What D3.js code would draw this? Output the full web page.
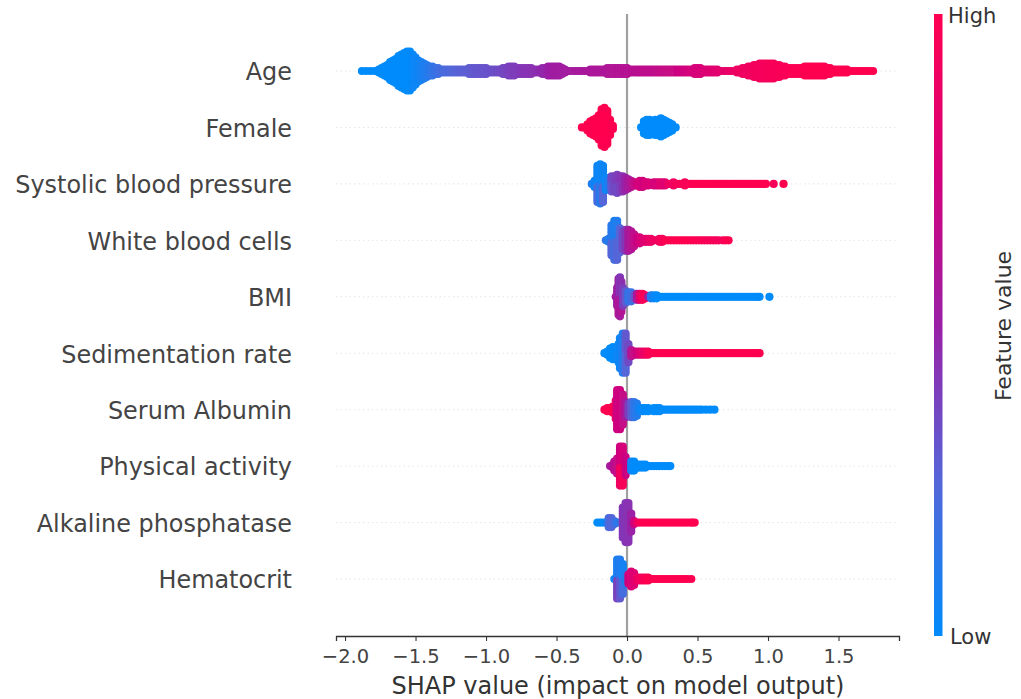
<!DOCTYPE html>
<html>
<head>
<meta charset="utf-8">
<script src="https://d3js.org/d3.v7.min.js"></script>
<style>
  html, body { margin: 0; background: #fff; }
  text { font-family: "DejaVu Sans", sans-serif; }
</style>
</head>
<body>
<div id="chart"></div>
<script>
const features = ['Age', 'Female', 'Systolic blood pressure', 'White blood cells', 'BMI',
  'Sedimentation rate', 'Serum Albumin', 'Physical activity', 'Alkaline phosphatase', 'Hematocrit'];
const xTicks = [-2.0, -1.5, -1.0, -0.5, 0.0, 0.5, 1.0, 1.5];

// each stop: [shap value, dots stacked, feature value upper half, feature value lower half]
const age = [[-1.88,1,0],[-1.85,1,0],[-1.82,1,0],[-1.79,1,0],[-1.76,2,0],[-1.74,3,0],[-1.72,4,0],[-1.70,5,0],[-1.68,7,0],[-1.66,8,0],[-1.64,9,0],[-1.62,11,0],[-1.60,12,0],[-1.58,13,0],[-1.56,14,0],[-1.54,14,0],[-1.52,12,0.02],
  [-1.50,10,0.03],[-1.48,8,0.05],[-1.46,7,0.06],[-1.44,6,0.08],[-1.42,5,0.1],[-1.40,4,0.12],[-1.38,4,0.14],[-1.36,3,0.16],[-1.34,3,0.18],[-1.32,2,0.2],[-1.30,2,0.21],[-1.28,2,0.22],[-1.26,2,0.23],[-1.24,2,0.24],[-1.22,2,0.25],[-1.20,2,0.26],[-1.18,2,0.26],[-1.16,2,0.27],[-1.14,2,0.27],[-1.12,3,0.28],[-1.10,3,0.29],
  [-1.08,3,0.3],[-1.06,3,0.3],[-1.04,3,0.31],[-1.02,3,0.31],[-1.00,3,0.32],[-0.98,2,0.32],[-0.96,2,0.33],[-0.94,2,0.33],[-0.92,2,0.34],[-0.90,2,0.35],[-0.88,3,0.36],[-0.86,3,0.37],[-0.84,4,0.38],[-0.82,4,0.39],[-0.80,4,0.4],[-0.78,3,0.4],[-0.76,3,0.41],[-0.74,3,0.42],[-0.72,3,0.43],[-0.70,3,0.43],
  [-0.68,3,0.44],[-0.66,2,0.44],[-0.64,2,0.45],[-0.62,2,0.46],[-0.60,3,0.47],[-0.58,3,0.48],[-0.56,4,0.5],[-0.54,4,0.51],[-0.52,4,0.52],[-0.50,4,0.52],[-0.48,4,0.53],[-0.46,3,0.53],[-0.44,2,0.53],[-0.42,1,0.54],[-0.40,1,0.54],[-0.38,1,0.54],[-0.36,1,0.55],[-0.34,1,0.55],[-0.32,1,0.55],[-0.30,1,0.56],
  [-0.28,1,0.56],[-0.26,2,0.56],[-0.24,2,0.57],[-0.22,2,0.57],[-0.20,2,0.57],[-0.18,2,0.58],[-0.16,2,0.58],[-0.14,3,0.58],[-0.12,3,0.59],[-0.10,3,0.59],[-0.08,3,0.6],[-0.06,3,0.6],[-0.04,3,0.6],[-0.02,3,0.61],[0.00,3,0.61],[0.02,2,0.61],[0.04,2,0.62],[0.06,2,0.62],[0.08,2,0.63],[0.10,2,0.63],
  [0.12,2,0.64],[0.14,2,0.64],[0.16,2,0.65],[0.18,2,0.65],[0.20,2,0.66],[0.22,2,0.66],[0.24,2,0.67],[0.26,2,0.67],[0.28,2,0.68],[0.30,2,0.68],[0.32,2,0.69],[0.34,2,0.69],[0.36,2,0.7],[0.38,2,0.71],[0.40,2,0.72],[0.42,2,0.73],[0.44,2,0.74],[0.46,2,0.74],[0.48,3,0.75],[0.50,3,0.75],
  [0.52,3,0.76],[0.54,2,0.77],[0.56,2,0.78],[0.58,2,0.79],[0.60,2,0.8],[0.62,2,0.81],[0.64,2,0.82],[0.66,1,0.83],[0.68,1,0.84],[0.70,1,0.85],[0.72,1,0.86],[0.74,1,0.87],[0.76,1,0.88],[0.78,2,0.89],[0.80,2,0.9],[0.82,3,0.9],[0.84,3,0.91],[0.86,4,0.91],[0.88,4,0.92],[0.90,5,0.92],
  [0.92,5,0.93],[0.94,6,0.93],[0.96,6,0.94],[0.98,6,0.94],[1.00,6,0.95],[1.02,6,0.95],[1.04,6,0.96],[1.06,5,0.96],[1.08,5,0.96],[1.10,4,0.97],[1.12,4,0.97],[1.14,3,0.97],[1.16,3,0.98],[1.18,3,0.98],[1.20,3,0.98],[1.22,3,0.99],[1.24,3,0.99],[1.26,4,1],[1.28,4,1],
  [1.30,4,1],[1.32,4,1],[1.34,4,1],[1.36,4,1],[1.38,4,1],[1.40,4,1],[1.42,3,1],[1.44,3,1],[1.46,2,1],[1.48,2,1],[1.50,2,1],[1.52,2,1],[1.54,2,1],[1.56,2,1],[1.58,1,1],[1.60,1,1],[1.62,1,1],[1.64,1,1],[1.66,1,1],[1.68,1,1],[1.70,1,1],[1.72,1,1],[1.745,1,1]];
const female = [[-0.32,1,1],[-0.30,1,1],[-0.28,3,1],[-0.26,5,1],[-0.24,6,1],[-0.22,7,1],[-0.20,9,1],[-0.18,13,1],[-0.16,14,1],[-0.14,12,1],[-0.12,6,1],[-0.10,2,1],
  [0.10,1,0],[0.12,5,0],[0.14,6,0],[0.16,6,0],[0.18,5,0],[0.20,6,0],[0.22,6,0],[0.24,7,0],[0.26,6,0],[0.28,5,0],[0.30,4,0],[0.32,3,0],[0.345,1,0]];
const systolic = [[-0.25,1,0.1],[-0.23,3,0.05],[-0.21,13,0.04,0.2],[-0.19,14,0.03,0.12],[-0.17,13,0.05,0.25],[-0.15,5,0.03],[-0.13,3,0.1],[-0.11,6,0.35,0.3],[-0.09,6,0.38,0.36],[-0.07,7,0.4,0.35],
  [-0.05,6,0.42,0.38],[-0.03,6,0.44],[-0.01,5,0.5],[0.01,4,0.55],[0.03,3,0.6],[0.05,2,0.68],[0.07,2,0.72],[0.09,3,0.76],[0.11,3,0.72],[0.13,2,0.78],[0.15,2,0.76],[0.17,1,0.8],[0.19,2,0.76],
  [0.21,2,0.74],[0.23,2,0.8],[0.25,2,0.82],[0.27,2,0.8],[0.29,1,0.88],[0.31,1,0.9],[0.33,2,0.92],[0.35,1,0.94],[0.37,1,0.96],[0.39,1,0.96],[0.41,2,0.95],[0.43,1,0.97],[0.45,1,0.98],[0.47,1,1],[0.49,1,1],[0.51,1,1],[0.53,1,1],[0.55,1,1],[0.57,1,1],[0.59,1,1],[0.61,1,1],[0.63,1,1],[0.65,1,1],[0.67,1,1],[0.69,1,1],[0.71,1,1],
  [0.73,1,1],[0.75,1,1],[0.77,1,1],[0.79,1,1],[0.81,1,1],[0.83,1,1],[0.85,1,1],[0.87,1,1],[0.89,1,1],[0.91,1,1],[0.93,1,1],[0.95,1,1],[0.97,1,1],[0.985,1,1],[1.04,1,0.95],[1.11,1,1]];
const bloodCells = [[-0.15,1,0.15],[-0.13,2,0.1],[-0.11,11,0.12,0.25],[-0.09,14,0.08,0.2],[-0.07,14,0.1,0.25],[-0.05,9,0.25],[-0.03,7,0.35],[-0.01,8,0.42],[0.01,8,0.55],[0.03,7,0.6],[0.05,5,0.66],[0.07,3,0.7],[0.09,3,0.74],[0.11,2,0.78],
  [0.13,2,0.82],[0.15,2,0.85],[0.17,2,0.88],[0.19,1,0.9],[0.21,1,0.92],[0.23,2,0.94],[0.25,2,0.95],[0.27,1,0.98],[0.29,1,1],[0.31,1,1],[0.33,1,1],[0.35,1,1],[0.37,1,1],[0.39,1,1],[0.41,1,1],[0.43,1,1],[0.45,1,1],[0.47,1,0.99],[0.49,1,0.98],[0.51,1,0.98],[0.53,1,0.97],[0.55,1,0.97],[0.57,1,0.96],[0.59,1,0.96],[0.61,1,0.95],[0.63,1,0.95],[0.65,1,0.94],[0.68,1,0.95],[0.70,1,1],[0.72,1,1]];
const bmi = [[-0.08,1,0.55],[-0.07,7,0.5],[-0.06,13,0.5,0.6],[-0.05,14,0.42,0.55],[-0.04,11,0.45,0.6],[-0.03,7,0.4],[-0.01,5,0.3],[0.01,4,0.15],[0.03,4,0.18],[0.05,2,0.3],[0.07,3,0.55],[0.09,3,0.85],[0.11,3,0.95],[0.13,2,0.98],
  [0.15,1,0.5],[0.17,2,0.1],[0.19,2,0.05],[0.21,2,0],[0.23,1,0],[0.25,1,0],[0.27,1,0],[0.29,1,0],[0.31,1,0],[0.33,1,0],[0.35,1,0],[0.37,1,0],[0.39,1,0],[0.41,1,0],[0.43,1,0],[0.45,1,0],[0.47,1,0],[0.49,1,0],[0.51,1,0],[0.53,1,0],[0.55,1,0],[0.57,1,0],[0.59,1,0],[0.61,1,0],[0.63,1,0],[0.65,1,0],[0.67,1,0],[0.69,1,0],[0.71,1,0],[0.73,1,0],[0.75,1,0],[0.77,1,0],[0.79,1,0],[0.81,1,0],[0.83,1,0],[0.85,1,0],[0.87,1,0],[0.89,1,0],[0.91,1,0],[0.925,1,0],[0.94,1,0],[1.01,1,0]];
const sedimentation = [[-0.16,1,0],[-0.14,2,0],[-0.12,4,0],[-0.10,5,0],[-0.08,4,0.02],[-0.06,7,0.03],[-0.05,11,0.05],[-0.03,14,0.08,0.1],[-0.01,14,0.3,0.25],[0.01,7,0.35],[0.03,3,0.6],[0.05,2,0.68],[0.07,2,0.72],[0.09,2,0.78],[0.11,2,0.84],
  [0.13,2,0.9],[0.15,2,0.95],[0.17,1,0.98],[0.19,1,1],[0.21,1,1],[0.23,1,1],[0.25,1,1],[0.27,1,1],[0.29,1,1],[0.31,1,1],[0.33,1,1],[0.35,1,1],[0.37,1,1],[0.39,1,1],[0.41,1,1],[0.43,1,1],[0.45,1,1],[0.47,1,1],[0.49,1,1],[0.51,1,1],[0.53,1,1],[0.55,1,1],[0.57,1,1],[0.59,1,1],[0.61,1,1],[0.63,1,1],[0.65,1,1],[0.67,1,1],[0.69,1,1],[0.71,1,1],[0.73,1,1],[0.75,1,1],[0.77,1,1],[0.79,1,1],[0.81,1,1],[0.83,1,1],[0.85,1,1],[0.87,1,1],[0.89,1,1],[0.91,1,1],[0.925,1,1],[0.94,1,1]];
const albumin = [[-0.16,1,1],[-0.14,2,1],[-0.12,2,1],[-0.10,3,1],[-0.08,7,0.85],[-0.07,14,0.72],[-0.05,14,0.72],[-0.03,11,0.68],[-0.01,6,0.55],[0.01,5,0.4],[0.03,6,0.28],[0.05,6,0.15],[0.07,5,0.1],[0.09,2,0.05],[0.11,2,0.02],[0.13,2,0],
  [0.15,2,0],[0.17,1,0],[0.19,2,0],[0.21,2,0],[0.23,2,0],[0.25,1,0],[0.27,1,0],[0.29,1,0],[0.31,1,0],[0.33,1,0],[0.35,1,0],[0.37,1,0],[0.39,1,0],[0.41,1,0],[0.43,1,0],[0.45,1,0],[0.47,1,0],[0.49,1,0],[0.51,1,0],[0.53,1,0],[0.56,1,0],[0.59,1,0],[0.62,1,0]];
const activity = [[-0.12,1,0.55],[-0.10,2,0.58],[-0.09,4,0.62],[-0.07,6,0.68],[-0.05,14,0.72,0.9],[-0.03,14,0.75,0.95],[-0.01,7,0.7],[0.03,4,0.03],[0.05,4,0],[0.07,2,0],[0.09,2,0],[0.11,2,0],[0.13,2,0],[0.15,1,0],[0.17,1,0],[0.19,1,0],[0.21,1,0],[0.23,1,0],[0.25,1,0],[0.27,1,0],[0.29,1,0],[0.307,1,0]];
const alkaline = [[-0.21,1,0],[-0.19,1,0],[-0.17,1,0],[-0.15,1,0.05],[-0.13,4,0.22],[-0.11,4,0.25],[-0.09,2,0.2],[-0.07,1,0.12],[-0.05,1,0.15],[-0.03,11,0.42],[-0.01,14,0.42],[0.01,14,0.44],[0.03,7,0.5],[0.05,2,0.72],[0.07,1,0.88],[0.09,1,0.95],
  [0.11,1,1],[0.13,1,1],[0.15,1,1],[0.17,1,1],[0.19,1,1],[0.21,1,1],[0.23,1,1],[0.25,1,1],[0.27,1,1],[0.29,1,1],[0.31,1,1],[0.33,1,1],[0.35,1,1],[0.37,1,1],[0.39,1,1],[0.41,1,1],[0.43,1,1],[0.45,1,1],[0.465,1,1],[0.48,1,1]];
const hematocrit = [[-0.09,1,0.03],[-0.07,14,0.08,0.38],[-0.05,14,0.1,0.3],[-0.03,11,0.06,0.2],[-0.01,4,0.12],[0.01,4,0.72],[0.03,6,0.78],[0.05,5,0.8],[0.07,2,0.88],[0.09,2,0.92],[0.11,2,0.95],[0.13,2,0.98],[0.15,2,1],[0.17,1,1],[0.19,1,1],[0.21,1,1],[0.23,1,1],[0.25,1,1],[0.27,1,1],[0.29,1,1],[0.31,1,1],[0.33,1,1],[0.35,1,1],[0.37,1,1],[0.39,1,1],[0.41,1,1],[0.43,1,1],[0.456,1,1]];
const rowStops = [age, female, systolic, bloodCells, bmi, sedimentation, albumin, activity, alkaline, hematocrit];

const width = 1021, height = 699;
const svg = d3.select('#chart').append('svg')
  .attr('width', width).attr('height', height)
  .style('display', 'block');

const defs = svg.append('defs');
defs.append('filter').attr('id', 'soft')
  .attr('x', '-5%').attr('y', '-50%').attr('width', '110%').attr('height', '200%')
  .append('feGaussianBlur').attr('stdDeviation', 0.7);

const x = d3.scaleLinear().domain([-2.064, 1.929]).range([336, 899]);
const y = d3.scalePoint().domain(features).range([71, 579]);
const color = d3.scaleLinear()
  .domain([0, 0.25, 0.5, 0.75, 1])
  .range(['#008bfb', '#5566d8', '#9a20a6', '#d6007a', '#ff0051']);

// gridlines
svg.selectAll('.grid').data(features).enter().append('line')
  .attr('x1', 336).attr('x2', 899)
  .attr('y1', d => y(d)).attr('y2', d => y(d))
  .style('stroke', '#ccc').style('stroke-width', 1)
  .style('stroke-dasharray', '1.5,3').style('opacity', 0.5);

// dots
const dotGap = 3.0;
const dots = [];
rowStops.forEach((stops, i) => {
  stops.forEach(([shap, n, upper, lower]) => {
    d3.range(n).forEach(k => {
      const off = (k - (n - 1) / 2) * dotGap;
      dots.push({ shap, off, row: features[i], v: off > 0 && lower !== undefined ? lower : upper });
    });
  });
});

// zero line
svg.append('line')
  .attr('x1', x(0)).attr('x2', x(0))
  .attr('y1', 14).attr('y2', 636)
  .style('stroke', '#a0a0a0').style('stroke-width', 2.2);

svg.append('g').attr('filter', 'url(#soft)')
  .selectAll('.dot').data(dots).enter().append('circle')
  .attr('class', 'dot')
  .attr('cx', d => x(d.shap))
  .attr('cy', d => y(d.row) + d.off)
  .attr('r', 4.1)
  .style('fill', d => color(d.v));

// x axis
const axis = svg.append('g')
  .attr('transform', 'translate(0,636)')
  .call(d3.axisBottom(x).tickValues(xTicks).tickFormat(d => d3.format('.1f')(d).replace('-', '\u2212')).tickSize(5).tickPadding(8));
axis.select('.domain').style('stroke', '#333').style('stroke-width', 1.3);
axis.selectAll('.tick line').style('stroke', '#333').style('stroke-width', 1.1);
axis.selectAll('text').style('font-size', '19.5px').style('fill', '#444').style('font-family', '"DejaVu Sans"');

svg.append('text').attr('x', 618).attr('y', 694)
  .attr('text-anchor', 'middle').style('font-size', '24px').style('fill', '#333')
  .text('SHAP value (impact on model output)');

// feature labels
svg.selectAll('.label').data(features).enter().append('text')
  .attr('x', 292).attr('y', d => y(d) + 1.5).attr('dy', '0.33em')
  .attr('text-anchor', 'end').style('font-size', '23.9px').style('fill', '#444')
  .text(d => d);

// colour bar
const grad = defs.append('linearGradient')
  .attr('id', 'barGrad').attr('x1', 0).attr('x2', 0).attr('y1', 1).attr('y2', 0);
color.domain().forEach(t => {
  grad.append('stop').attr('offset', t).attr('stop-color', color(t));
});
svg.append('rect').attr('x', 934).attr('y', 14).attr('width', 8.5).attr('height', 622)
  .style('fill', 'url(#barGrad)');
svg.append('text').attr('x', 948).attr('y', 23).style('font-size', '21px').style('fill', '#333').text('High');
svg.append('text').attr('x', 950).attr('y', 644).style('font-size', '21px').style('fill', '#333').text('Low');
svg.append('text').attr('transform', 'translate(1011,326) rotate(-90)')
  .attr('text-anchor', 'middle').style('font-size', '22px').style('fill', '#333')
  .text('Feature value');
</script>
</body>
</html>
